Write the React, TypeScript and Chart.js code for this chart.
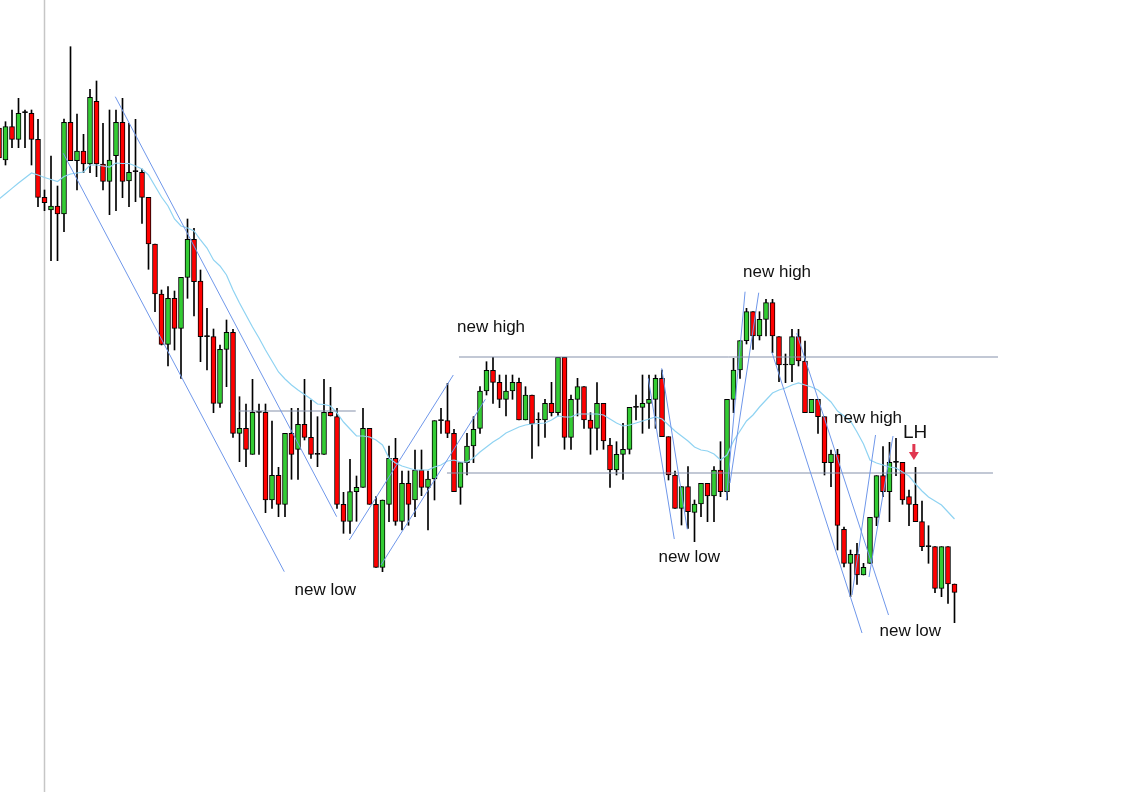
import React, { useEffect, useRef } from "react";
import { Chart, registerables } from "chart.js";

Chart.register(...registerables);

// ---- candles (first one is cut off at the left edge) ----
const opens = [
  672, 640, 673.3, 660.7, 687.3, 686.7, 660.7, 602.7, 590, 594, 586, 677.7, 639.3, 649, 636, 698.7, 636, 618.7, 644.3, 677.7,
  619, 628.3, 627.7, 602.7, 556, 506, 455.7, 501.7, 471.7, 522.7, 560.7, 519, 463.3, 463.3, 396.7, 450.7, 467.7, 366.7, 371.7, 345.7,
  387.7, 387.7, 300, 324.7, 295.7, 366.7, 350.7, 375.7, 362.7, 345.7, 345.7, 387.7, 383.3, 295.7, 278.7, 308.3, 312.7, 371.7, 295.7, 232.7,
  295.7, 341.7, 278.7, 316.7, 300, 330, 312.7, 321, 379.3, 379.3, 366.7, 312.7, 337.3, 354, 371.7, 409, 429.7, 417.7, 400.7, 409,
  417.7, 380, 405, 380, 380, 396.7, 387.3, 442.7, 362.7, 400.7, 413.3, 380, 371.7, 396.7, 355, 330, 345.7, 350.7, 392.7, 392.7,
  396.7, 400.7, 421.7, 363.3, 325, 291.7, 313.3, 287.7, 296, 316.7, 304, 330, 308.3, 400.7, 430, 459.3, 488.3, 464, 480.7, 497.3,
  463.3, 435, 435, 463.3, 439, 387.3, 400.7, 383.3, 337.3, 346, 270.7, 236.7, 245.7, 225, 236.7, 282.7, 324.3, 308.3, 337.7, 337.7,
  303.3, 295.7, 278.3, 253.3, 253.3, 211.7, 253.3, 216,
];
const highs = [
  680, 678.3, 690, 701.7, 690, 690, 680.7, 610, 644, 614, 681, 753.3, 686, 665.7, 710.7, 719, 676.7, 690, 690, 701.7,
  676.7, 680.7, 631, 602.7, 556, 510, 513.3, 509, 522.7, 581, 571.7, 530, 491.7, 471, 455, 480, 470.7, 403.3, 396, 420.7,
  396, 396, 379, 332.7, 366.7, 391.7, 391.7, 420.7, 400, 383.3, 420.7, 412.7, 391.7, 307.7, 340.7, 324, 391.7, 371.7, 303.3, 300,
  354, 361.7, 329, 329, 350, 350, 329, 379.3, 391.7, 416.7, 370.7, 337.3, 366.7, 383.3, 413.3, 438.3, 442.7, 425, 425, 425,
  422, 413.3, 405, 387.3, 400.7, 417.7, 442.7, 442.7, 405, 421.7, 413.3, 387.3, 417.5, 396.7, 361.7, 358.3, 376.7, 392.7, 405, 425,
  425, 425, 430, 363.3, 329, 313.3, 333.3, 300, 316.7, 316.7, 333.3, 358.3, 400.7, 441.7, 459.3, 491.7, 488.3, 488.3, 500.7, 500.7,
  463.3, 446, 470.7, 470.7, 459, 400.7, 400.7, 383.3, 350, 350.7, 273, 250, 256.7, 236.7, 282.7, 324.3, 353.3, 357.7, 361.7, 337.7,
  310, 332.7, 299, 274.3, 253.3, 253.3, 253.3, 216,
];
const lows = [
  628, 635, 652.3, 652.3, 652.3, 635, 593.3, 589.3, 539.3, 539.3, 568.3, 639.3, 610, 627.3, 627.3, 623.3, 610, 585.3, 589.3, 602.3,
  593.3, 598.3, 576.7, 530.7, 488.3, 455, 434, 450, 421.7, 501.7, 484, 438.3, 430, 387.3, 392.7, 413.3, 362.7, 338.3, 333.3, 345.7,
  345.7, 287.3, 291.7, 283.3, 283.3, 320.7, 320.7, 360, 341.7, 333.3, 345.7, 384, 291.7, 266.7, 266.7, 278.7, 312.7, 295.7, 232.7, 228.3,
  278.3, 274.7, 270, 274.7, 283.3, 304.3, 270, 300, 366.7, 362.3, 308.3, 295.7, 325, 337.3, 366.7, 405, 396.7, 392.3, 384, 400.7,
  380, 380, 341.7, 354, 362.7, 384, 384, 350.7, 350.7, 384, 371.7, 345.7, 350, 350.7, 312.7, 325, 320.7, 346, 380, 366.7,
  371.7, 371.7, 363.3, 320, 291.7, 275, 271.7, 258.3, 283.3, 278.3, 278.3, 303.3, 300, 387.3, 421.7, 456, 450.7, 460, 464, 447.3,
  418.3, 417.3, 418.3, 434, 387.3, 387.3, 366.7, 325, 313.3, 250, 233, 203.3, 215.7, 225, 236.7, 274.3, 303.3, 278.3, 324.3, 295.7,
  274.3, 278.3, 249.3, 236.7, 207.3, 203.3, 196.7, 177.3,
];
const closes = [
  642, 673.3, 660.7, 686.7, 687.3, 660.7, 602.7, 597.3, 594, 586, 677.7, 639.3, 649, 636, 702.7, 636, 618.7, 640, 677.7, 618.7,
  627.7, 628.3, 602.7, 556, 506, 455.7, 501.7, 471.7, 522.7, 560.7, 518.3, 463.3, 463.3, 396.7, 450.7, 467.7, 366.7, 371.7, 350.7, 387.7,
  387.7, 300, 324.7, 295.7, 366.7, 345.7, 375.7, 362.7, 345.7, 345.7, 387.7, 384, 295.7, 278.7, 308.3, 312.7, 371.7, 295.7, 232.7, 300,
  341.7, 278.7, 316.7, 295.7, 330, 312.7, 321, 379.3, 379.3, 366.7, 308.3, 337.3, 354, 370.7, 409, 429.7, 417.7, 400.7, 409, 417.7,
  380, 405, 376, 380, 396.7, 387.3, 442.7, 362.7, 400.7, 413.3, 380, 371.7, 396.7, 359, 330, 345.7, 350.7, 392.7, 392.7, 396.7,
  400.7, 421.7, 363.3, 325, 291.7, 313.3, 288.3, 296, 316.7, 304, 330, 308.3, 400.7, 430, 459.3, 488.3, 464, 480.7, 497.3, 464,
  435, 435, 463.3, 439, 387.3, 400.7, 383.3, 337.3, 346, 274.7, 236.7, 245.7, 225, 232.7, 282.7, 324.3, 308.3, 337.7, 337.7, 300,
  295.7, 278.3, 253.3, 253.3, 211.7, 253.3, 216, 207.7,
];
// moving average, one value per candle
const movingAvg = [
  601, 606.3, 611.6, 617, 622, 627, 625, 622.5, 620.5, 618.5, 623.5, 626, 627, 628, 635, 635, 634, 633, 637, 636.5,
  636.5, 634, 631, 625, 614, 603, 594, 581, 574, 572, 569, 560, 552, 540, 534, 525, 510, 497, 485, 473,
  462, 450, 439, 428, 421, 415, 410, 405.5, 401, 396, 395.5, 394, 387, 378, 371, 364, 364, 363, 360, 355,
  342, 337, 334, 332, 330, 330, 330, 333, 335, 339, 340, 338, 338, 342, 348, 353, 358, 362, 367, 370,
  373, 375, 376, 376.5, 377, 380, 384, 383, 383, 386, 386, 386, 386, 385, 381, 377, 374, 375, 377, 379,
  381, 383, 381, 375, 369, 364, 359, 353, 350, 349, 346, 340, 345, 359, 369, 379, 385, 393, 400, 407,
  410, 412, 415, 417, 415, 413, 410, 404, 398, 389, 384, 379, 368, 356, 340, 337, 335, 333, 332, 328,
  324, 316, 309, 303, 299, 295, 288, 281,
];
const firstCandle = -1;

// ---- drawn trend lines (candle index, price) ----
const trendStartIdx = [16.89, 8.89, 52.89, 57.77, 98.89, 100.95, 113.78, 115.88, 117.88, 121.72, 133.85, 136.54];
const trendStartPrice = [703.3, 646.7, 260, 235, 421.7, 431.7, 508.3, 507.3, 448.3, 466.7, 365, 364];
const trendEndIdx = [50.95, 42.89, 68.89, 73.82, 102.89, 104.89, 110.89, 111.46, 131.77, 135.85, 130.23, 132.85];
const trendEndPrice = [283.3, 228.3, 425, 400.7, 261, 270.7, 300, 317, 167, 185, 205, 223];

// ---- horizontal levels ----
const levelPrice = [389, 443, 327];
const levelFromIdx = [35.92, 69.77, 67.92];
const levelToIdx = [53.88, 152.69, 151.92];

// ---- vertical separator ----
const separatorIdx = 6;

// ---- annotations ----
const labelText = ["new low", "new high", "new high", "new low", "new high", "LH", "new low"];
const labelIdx = [49.2, 74.7, 118.7, 105.2, 132.7, 139.95, 139.2];
const labelPrice = [210, 473, 528, 243, 382, 367, 169];
const arrowIdx = 139.75;
const arrowTopPrice = 356;
const arrowTipPrice = 340;

const W = 1127;
const H = 792;

export default function App() {
  const ref = useRef<HTMLCanvasElement | null>(null);

  useEffect(() => {
    if (!ref.current) return;
    const xs = opens.map((_, i) => i + firstCandle);
    const isDoji = (i: number) => opens[i] === closes[i];
    const bodyColors = opens.map((o, i) =>
      isDoji(i) ? "#000000" : closes[i] > o ? "#33cc33" : "#ff0000"
    );

    const lineDs = (pts: { x: number; y: number }[], color: string, width: number, order: number) => ({
      type: "line" as const,
      data: pts,
      borderColor: color,
      borderWidth: width,
      pointRadius: 0,
      fill: false,
      tension: 0,
      order,
    });

    const datasets: any[] = [];
    datasets.push(
      lineDs(
        [
          { x: separatorIdx, y: 8 },
          { x: separatorIdx, y: 800 },
        ],
        "#c6c6c6",
        1.5,
        20
      )
    );
    datasets.push({
      type: "bar",
      data: xs.map((x, i) => ({ x, y: [lows[i], highs[i]] })),
      backgroundColor: "#000000",
      barThickness: 1,
      grouped: false,
      order: 15,
    });
    datasets.push({
      type: "bar",
      data: xs.map((x, i) => ({ x, y: [opens[i], closes[i]] })),
      backgroundColor: bodyColors,
      borderColor: "#000000",
      borderWidth: 1,
      borderSkipped: false,
      minBarLength: 1,
      barThickness: 5,
      grouped: false,
      order: 14,
    });
    datasets.push(
      lineDs(
        xs.map((x, i) => ({ x, y: movingAvg[i] })),
        "#8fd3f2",
        1.2,
        5
      )
    );
    levelPrice.forEach((p, i) => {
      datasets.push(
        lineDs(
          [
            { x: levelFromIdx[i], y: p },
            { x: levelToIdx[i], y: p },
          ],
          "#8591ab",
          1,
          4
        )
      );
    });
    trendStartIdx.forEach((sx, i) => {
      datasets.push(
        lineDs(
          [
            { x: sx, y: trendStartPrice[i] },
            { x: trendEndIdx[i], y: trendEndPrice[i] },
          ],
          "#6f97ea",
          1,
          3
        )
      );
    });

    const annotate = {
      id: "annotate",
      afterDatasetsDraw(chart: any) {
        const { ctx, scales } = chart;
        const sx = scales.x;
        const sy = scales.y;
        ctx.save();
        ctx.fillStyle = "#111111";
        ctx.textAlign = "center";
        ctx.textBaseline = "middle";
        labelText.forEach((t, i) => {
          ctx.font = t === "LH" ? '19px "Liberation Sans", Arial, sans-serif' : '17px "Liberation Sans", Arial, sans-serif';
          ctx.fillText(t, sx.getPixelForValue(labelIdx[i]), sy.getPixelForValue(labelPrice[i]));
        });
        // red down arrow
        const ax = sx.getPixelForValue(arrowIdx);
        const top = sy.getPixelForValue(arrowTopPrice);
        const tip = sy.getPixelForValue(arrowTipPrice);
        const headH = (tip - top) * 0.5;
        ctx.fillStyle = "#e0364f";
        ctx.fillRect(ax - 1.5, top, 3, tip - top - headH + 0.5);
        ctx.beginPath();
        ctx.moveTo(ax - 5, tip - headH);
        ctx.lineTo(ax + 5, tip - headH);
        ctx.lineTo(ax, tip);
        ctx.closePath();
        ctx.fill();
        ctx.restore();
      },
    };

    const chart = new Chart(ref.current, {
      type: "bar",
      data: { datasets },
      options: {
        animation: false,
        responsive: false,
        devicePixelRatio: 1,
        events: [],
        layout: { padding: 0 },
        plugins: { legend: { display: false }, tooltip: { enabled: false }, title: { display: false } },
        scales: {
          x: {
            type: "linear",
            display: false,
            offset: false,
            min: -5.5 / 6.5,
            max: (W - 5.5) / 6.5,
            grid: { display: false },
          },
          y: {
            type: "linear",
            display: false,
            min: 8,
            max: 800,
            grid: { display: false },
          },
        },
      },
      plugins: [annotate],
    });
    return () => chart.destroy();
  }, []);

  return (
    <div style={{ position: "absolute", left: 0, top: 0, width: W, height: H, background: "#ffffff" }}>
      <canvas ref={ref} width={W} height={H} style={{ display: "block", width: W, height: H }} />
    </div>
  );
}
